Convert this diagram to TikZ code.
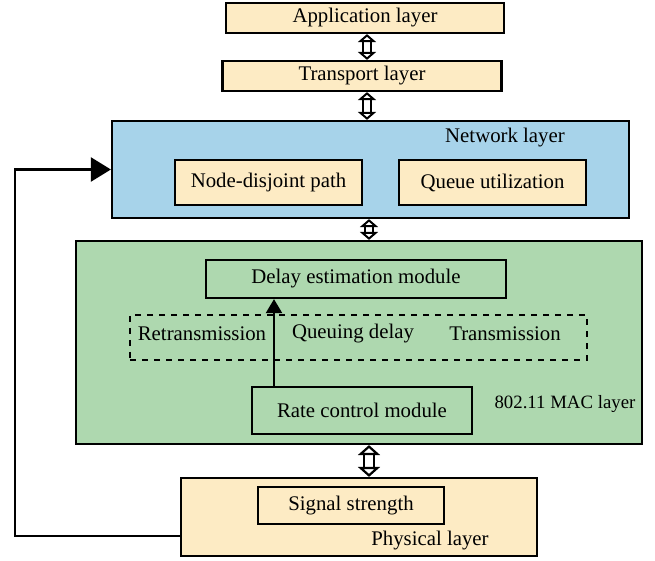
\documentclass[tikz,border=0pt]{standalone}
\usepackage{fontspec}
\setmainfont{Liberation Serif}
\usetikzlibrary{arrows.meta, positioning}

\definecolor{layeryellow}{HTML}{FDEBC4}
\definecolor{layerblue}{HTML}{A7D3EA}
\definecolor{layergreen}{HTML}{AED8AF}

\begin{document}
\begin{tikzpicture}[x=0.5pt, y=-0.5pt, font=\fontsize{10.4}{12}\selectfont]
    \tikzstyle{box} = [rectangle, draw=black, line width=1.1pt, inner sep=0pt, text centered]
    \tikzstyle{layer} = [box, fill=layeryellow]
    \tikzstyle{module} = [box, fill=layeryellow]
    \tikzstyle{dblarrow} = [line width=1.1pt, double=white, double distance=2.8pt, {Triangle[open, length=4pt, width=9pt]}-{Triangle[open, length=4pt, width=9pt]}]
    \tikzstyle{arrow} = [line width=1.1pt, -{Triangle[length=10pt, width=12pt]}]

    \useasboundingbox (0,0) rectangle (655,561);

    % upper layers
    \node (app) [layer, minimum width=139pt, minimum height=15pt] at (365,18) {Application layer};
    \node (trans) [layer, minimum width=139.5pt, minimum height=15pt] at (362,76) {Transport layer};

    % network layer
    \node (net) [box, fill=layerblue, minimum width=258.5pt, minimum height=48.5pt] at (370.5,169.5) {};
    \node (netlabel) at (505,138) {Network layer};
    \node (ndp) [module, minimum width=93.5pt, minimum height=22.5pt] at (268.5,182.5) {Node-disjoint path};
    \node (queue) [module, minimum width=93.5pt, minimum height=22.5pt] at (492.5,182.5) {Queue utilization};

    % MAC layer
    \node (mac) [box, fill=layergreen, minimum width=283pt, minimum height=101.5pt] at (359,342.5) {};
    \node (delay) [box, minimum width=150pt, minimum height=19pt] at (356,279) {Delay estimation module};
    \node (factors) [box, dashed, minimum width=228.5pt, minimum height=22.5pt] at (358.5,337.5) {};
    \node (retrans) at (202,334) {Retransmission};
    \node (qdelay) at (353,334) {Queuing delay};
    \node (trans2) at (505,334) {Transmission};
    \node (rate) [box, minimum width=110pt, minimum height=23.5pt] at (362,410.5) {Rate control module};
    \node (maclabel) [inner sep=0pt, font=\fontsize{9.4}{11}\selectfont] at (565,404) {802.11 MAC layer};

    % physical layer
    \node (phy) [layer, minimum width=178pt, minimum height=39pt] at (359,517) {};
    \node (signal) [module, minimum width=93pt, minimum height=18.5pt] at (351,505.5) {Signal strength};
    \node (phylabel) at (430,541) {Physical layer};

    % interfaces between layers
    \draw [dblarrow] (app.south -| 367,0) -- (trans.north -| 367,0);
    \draw [dblarrow] (trans.south -| 367,0) -- (net.north -| 367,0);
    \draw [dblarrow] (net.south -| 369,0) -- (mac.north -| 369,0);
    \draw [dblarrow, double distance=3.6pt, {Triangle[open, length=5pt, width=11pt]}-{Triangle[open, length=5pt, width=11pt]}] (mac.south -| 369,0) -- (phy.north -| 369,0);

    % feedback
    \draw [arrow, -{Triangle[length=7pt, width=8pt]}] (rate.north -| 274,0) -- (delay.south -| 274,0);
    \coordinate (fb) at (15,536);
    \draw [arrow] (phy.west |- fb) -- (fb) |- (net.west);
\end{tikzpicture}
\end{document}
